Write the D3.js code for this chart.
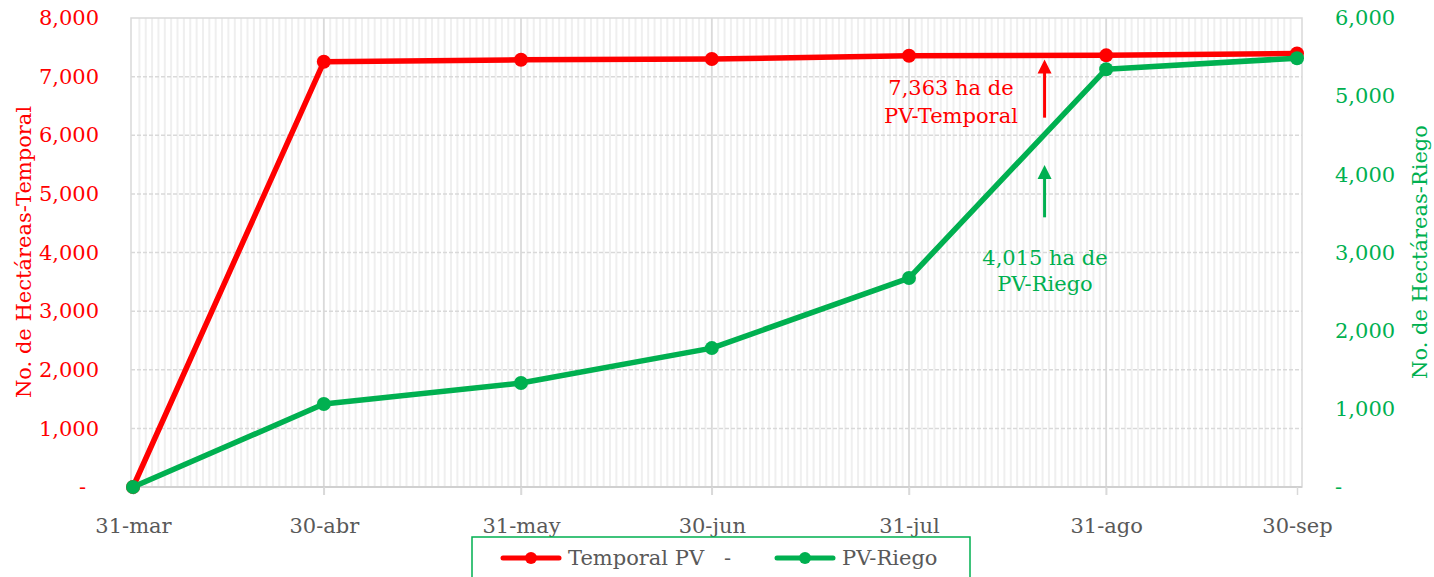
<!doctype html>
<html lang="es">
<head>
<meta charset="UTF-8">
<title>Hectáreas PV</title>
<style>
  body { margin: 0; background: #fff; }
  svg text { font-family: "DejaVu Serif", serif; }
  .minor line { stroke: #efefef; stroke-width: 2; }
  .major line { stroke: #d9d9d9; stroke-width: 1.5; }
  .hgrid line { stroke: #d9d9d9; stroke-width: 1.5; stroke-dasharray: 4,2; }
</style>
</head>
<body>
<svg id="chart" width="1434" height="577"></svg>
<script src="https://d3js.org/d3.v7.min.js"></script>
<script>
// datos
var fechas = ["2023-03-31", "2023-04-30", "2023-05-31", "2023-06-30", "2023-07-31", "2023-08-31", "2023-09-30"];
var etiquetas = ["31-mar", "30-abr", "31-may", "30-jun", "31-jul", "31-ago", "30-sep"];
var temporal = [0, 7253, 7287, 7300, 7355, 7363, 7395];
var riego = [0, 1061, 1330, 1777, 2673, 5345, 5486];
var ticksIzq = [0, 1000, 2000, 3000, 4000, 5000, 6000, 7000, 8000];
var ticksDer = [0, 1000, 2000, 3000, 4000, 5000, 6000];

var rojo = "#ff0000", verde = "#00b050", gris = "#595959";
var fs = 21;
var parse = d3.timeParse("%Y-%m-%d");
var dates = fechas.map(parse);

var svg = d3.select("#chart");
var pLeft = 131, pRight = 1302, pTop = 18, pBottom = 487;

var x = d3.scaleTime().domain([dates[0], dates[dates.length - 1]]).range([133, 1297]);
var yL = d3.scaleLinear().domain([0, 8000]).range([pBottom, pTop]);
var yR = d3.scaleLinear().domain([0, 6000]).range([pBottom, pTop]);

var fmt = function (d) { return d === 0 ? "-" : d3.format(",")(d); };

// rejilla menor (días)
var dias = d3.timeDay.range(d3.timeDay.offset(dates[0], 1), dates[dates.length - 1]);
svg.append("g").attr("class", "minor")
  .selectAll("line").data(dias).enter().append("line")
  .attr("x1", function (d) { return x(d); }).attr("x2", function (d) { return x(d); })
  .attr("y1", pTop).attr("y2", pBottom);

// rejilla horizontal
svg.append("g").attr("class", "hgrid")
  .selectAll("line").data(ticksIzq.slice(1, -1)).enter().append("line")
  .attr("x1", pLeft).attr("x2", pRight)
  .attr("y1", function (d) { return yL(d); }).attr("y2", function (d) { return yL(d); });

// rejilla mayor (fin de mes)
svg.append("g").attr("class", "major")
  .selectAll("line").data(dates.slice(1, -1)).enter().append("line")
  .attr("x1", function (d) { return x(d); }).attr("x2", function (d) { return x(d); })
  .attr("y1", pTop).attr("y2", pBottom + 8);

// marco
svg.append("rect").attr("x", pLeft).attr("y", pTop).attr("width", pRight - pLeft).attr("height", pBottom - pTop)
  .attr("fill", "none").attr("stroke", "#d9d9d9").attr("stroke-width", 1.5);
svg.append("line").attr("x1", pLeft).attr("x2", pRight).attr("y1", pBottom).attr("y2", pBottom)
  .attr("stroke", "#d0d0d0").attr("stroke-width", 2);

// eje x
var xAxis = svg.append("g").attr("transform", "translate(0," + pBottom + ")")
  .call(d3.axisBottom(x).tickValues(dates).tickFormat(function (d, i) { return etiquetas[i]; }).tickSize(8));
xAxis.select(".domain").remove();
xAxis.selectAll("line").attr("stroke", "#d9d9d9").attr("stroke-width", 1.5);
xAxis.selectAll("text").attr("fill", gris).attr("font-size", fs).attr("dy", 0).attr("y", 46);

// eje izquierdo
var yAxisL = svg.append("g").attr("transform", "translate(100,0)")
  .call(d3.axisLeft(yL).tickValues(ticksIzq).tickFormat(fmt).tickSize(0));
yAxisL.select(".domain").remove();
yAxisL.selectAll("text").attr("fill", rojo).attr("font-size", fs).attr("x", -1)
  .filter(function (d) { return d === 0; }).attr("x", -14);

// eje derecho
var yAxisR = svg.append("g").attr("transform", "translate(1334,0)")
  .call(d3.axisRight(yR).tickValues(ticksDer).tickFormat(fmt).tickSize(0));
yAxisR.select(".domain").remove();
yAxisR.selectAll("text").attr("fill", verde).attr("font-size", fs).attr("x", 1);

// títulos de ejes
svg.append("text").attr("transform", "translate(31,252) rotate(-90)")
  .attr("text-anchor", "middle").attr("fill", rojo).attr("font-size", fs)
  .text("No. de Hectáreas-Temporal");
svg.append("text").attr("transform", "translate(1427,252) rotate(-90)")
  .attr("text-anchor", "middle").attr("fill", verde).attr("font-size", fs)
  .text("No. de Hectáreas-Riego");

// series
var series = [
  { nombre: "Temporal", valores: temporal, y: yL, color: rojo },
  { nombre: "Riego", valores: riego, y: yR, color: verde }
];
series.forEach(function (s) {
  var pts = dates.map(function (d, i) { return [x(d), s.y(s.valores[i])]; });
  svg.append("path").attr("d", d3.line()(pts))
    .attr("fill", "none").attr("stroke", s.color).attr("stroke-width", 5.5).attr("stroke-linejoin", "round");
  svg.append("g").selectAll("circle").data(pts).enter().append("circle")
    .attr("cx", function (p) { return p[0]; }).attr("cy", function (p) { return p[1]; })
    .attr("r", 7).attr("fill", s.color);
});

// anotaciones
function flecha(xp, y1, y2, color) {
  svg.append("line").attr("x1", xp).attr("x2", xp).attr("y1", y1).attr("y2", y2 + 12)
    .attr("stroke", color).attr("stroke-width", 3);
  svg.append("path").attr("d", "M" + (xp - 7) + "," + (y2 + 14) + "L" + xp + "," + y2 + "L" + (xp + 7) + "," + (y2 + 14) + "Z")
    .attr("fill", color);
}
var fa = parse("2023-08-21");
var xa = x(fa) + 2;
flecha(xa, yL(6300), yL(7290), rojo);
flecha(xa, yR(3450), yR(4120), verde);

svg.append("text").attr("x", 951).attr("y", 95).attr("text-anchor", "middle")
  .attr("fill", rojo).attr("font-size", fs).text("7,363 ha de");
svg.append("text").attr("x", 951).attr("y", 123).attr("text-anchor", "middle")
  .attr("fill", rojo).attr("font-size", fs).text("PV-Temporal");
svg.append("text").attr("x", 1045).attr("y", 265).attr("text-anchor", "middle")
  .attr("fill", verde).attr("font-size", fs).text("4,015 ha de");
svg.append("text").attr("x", 1045).attr("y", 291).attr("text-anchor", "middle")
  .attr("fill", verde).attr("font-size", fs).text("PV-Riego");

// leyenda
svg.append("rect").attr("x", 472).attr("y", 537).attr("width", 498).attr("height", 50)
  .attr("fill", "#fff").attr("stroke", verde).attr("stroke-width", 1.5);
var leyenda = [
  { texto: "Temporal PV   -", color: rojo, x0: 503 },
  { texto: "PV-Riego", color: verde, x0: 777 }
];
leyenda.forEach(function (l) {
  svg.append("line").attr("x1", l.x0).attr("x2", l.x0 + 56).attr("y1", 558).attr("y2", 558)
    .attr("stroke", l.color).attr("stroke-width", 5).attr("stroke-linecap", "round");
  svg.append("circle").attr("cx", l.x0 + 28).attr("cy", 558).attr("r", 6).attr("fill", l.color);
  svg.append("text").attr("x", l.x0 + 65).attr("y", 565).attr("fill", gris).attr("font-size", fs)
    .attr("xml:space", "preserve").style("white-space", "pre").text(l.texto);
});
</script>
</body>
</html>
